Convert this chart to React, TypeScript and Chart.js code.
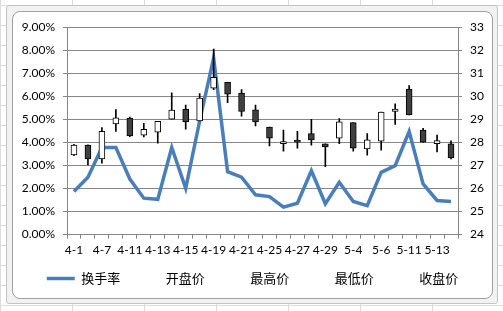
import React, { useEffect, useRef } from "react";
import { Chart, registerables } from "chart.js";

Chart.register(...registerables);

const categories = [
  "4-1", "4-2", "4-7", "4-8", "4-11", "4-12", "4-13", "4-14", "4-15", "4-18",
  "4-19", "4-20", "4-21", "4-22", "4-25", "4-26", "4-27", "4-28", "4-29", "4-30",
  "5-4", "5-5", "5-6", "5-7", "5-11", "5-12", "5-13", "5-14",
];

const turnover = [
  1.87, 2.49, 3.78, 3.78, 2.41, 1.58, 1.53, 3.78, 2.01, 4.93,
  7.66, 2.73, 2.49, 1.73, 1.65, 1.19, 1.36, 2.77, 1.34, 2.27,
  1.44, 1.26, 2.70, 2.99, 4.47, 2.20, 1.48, 1.44,
];

const openPrice = [
  27.46, 27.89, 27.28, 28.80, 29.06, 28.32, 28.45, 29.01, 29.45, 28.93,
  30.35, 30.61, 30.14, 29.41, 28.67, 27.95, 28.08, 28.38, 27.94, 28.18,
  28.86, 27.72, 28.05, 29.34, 30.31, 28.54, 27.95, 27.94,
];
const highPrice = [
  27.92, 27.90, 28.64, 29.43, 29.10, 28.83, 28.91, 30.15, 29.62, 30.12,
  32.05, 30.61, 30.29, 29.62, 28.67, 28.54, 28.48, 29.00, 27.94, 29.03,
  28.86, 28.38, 29.32, 29.68, 30.47, 28.61, 28.32, 28.07,
];
const lowPrice = [
  27.42, 27.02, 27.10, 28.48, 28.25, 28.24, 27.97, 29.01, 28.57, 28.93,
  30.29, 29.72, 29.14, 28.72, 27.85, 27.62, 27.75, 27.88, 26.95, 27.95,
  27.62, 27.45, 27.66, 28.78, 29.19, 28.01, 27.59, 27.28,
];
const closePrice = [
  27.89, 27.28, 28.48, 29.07, 28.28, 28.57, 28.91, 29.40, 28.89, 29.92,
  30.82, 30.09, 29.34, 28.89, 28.18, 28.04, 28.01, 28.11, 27.81, 28.89,
  27.75, 28.11, 29.32, 29.45, 29.19, 28.01, 28.08, 27.33,
];

const legendNames = ["换手率", "开盘价", "最高价", "最低价", "收盘价"];

const GRID = "#868686";
const LINE = "#4A7EBB";
const AXIS_FONT = { family: "Lato, 'Liberation Sans', sans-serif", size: 12 };

export default function App() {
  const ref = useRef<HTMLCanvasElement | null>(null);

  useEffect(() => {
    if (!ref.current) return;
    const up = openPrice.map((o, i) => closePrice[i] >= o);
    const chart = new Chart(ref.current, {
      type: "bar",
      data: {
        labels: categories,
        datasets: [
          {
            type: "line",
            label: legendNames[0],
            data: turnover,
            yAxisID: "y",
            borderColor: LINE,
            borderWidth: 3.5,
            pointRadius: 0,
            tension: 0,
            order: 3,
          } as any,
          {
            type: "bar",
            label: "wick",
            data: lowPrice.map((l, i) => [l, highPrice[i]]),
            yAxisID: "y1",
            backgroundColor: "#000",
            borderWidth: 0,
            barThickness: 1,
            grouped: false,
            order: 2,
          } as any,
          {
            type: "bar",
            label: "body",
            data: openPrice.map((o, i) => [o, closePrice[i]]),
            yAxisID: "y1",
            backgroundColor: up.map((u) => (u ? "#ffffff" : "#404040")),
            borderColor: "#000",
            borderWidth: 1,
            borderSkipped: false,
            barThickness: 6,
            minBarLength: 2,
            grouped: false,
            order: 1,
          } as any,
        ],
      },
      options: {
        animation: false,
        responsive: true,
        maintainAspectRatio: false,
        events: [],
        layout: { padding: { left: 0, right: 0, top: 7, bottom: 4 } },
        scales: {
          x: {
            offset: true,
            grid: {
              display: true,
              offset: true,
              drawOnChartArea: false,
              drawTicks: true,
              tickLength: 4,
              color: GRID,
            },
            border: { color: GRID },
            ticks: {
              autoSkip: false,
              maxRotation: 0,
              minRotation: 0,
              padding: 4,
              color: "#000",
              font: AXIS_FONT,
              callback: (_v: any, i: number) => (i % 2 === 0 ? categories[i] : ""),
            },
          },
          y: {
            position: "left",
            min: 0,
            max: 9,
            grid: { color: GRID, tickLength: 4 },
            border: { color: GRID },
            ticks: {
              stepSize: 1,
              padding: 8,
              color: "#000",
              font: AXIS_FONT,
              callback: (v: any) => Number(v).toFixed(2) + "%",
            },
            afterFit: (s: any) => {
              s.width = 55;
            },
          },
          y1: {
            position: "right",
            min: 24,
            max: 33,
            grid: { drawOnChartArea: false, color: GRID, tickLength: 4 },
            border: { color: GRID },
            ticks: { stepSize: 1, padding: 8, color: "#000", font: AXIS_FONT },
            afterFit: (s: any) => {
              s.width = 35;
            },
          },
        },
        plugins: {
          tooltip: { enabled: false },
          legend: {
            position: "bottom",
            labels: {
              usePointStyle: true,
              pointStyleWidth: 28,
              boxHeight: 13,
              padding: 11,
              color: "#000",
              font: { family: "'Noto Sans CJK SC', sans-serif", size: 13 },
              generateLabels: () =>
                legendNames.map((name, i) => ({
                  text: name,
                  pointStyle: "line",
                  strokeStyle: i === 0 ? LINE : "rgba(0,0,0,0)",
                  fillStyle: "rgba(0,0,0,0)",
                  lineWidth: i === 0 ? 3.5 : 0,
                  hidden: false,
                  datasetIndex: i,
                })),
            },
          },
        },
      } as any,
    });
    return () => chart.destroy();
  }, []);

  return (
    <div
      style={{
        position: "absolute",
        left: 0,
        top: 0,
        width: 503,
        height: 311,
        overflow: "hidden",
        background: "#ffffff",
        backgroundImage:
          "repeating-linear-gradient(to right, #dcdcdc 0, #dcdcdc 1px, transparent 1px, transparent 72px), repeating-linear-gradient(to bottom, transparent 0, transparent 5px, #dcdcdc 5px, #dcdcdc 6px, transparent 6px, transparent 20px)",
      }}
    >
      <div
        style={{
          position: "absolute",
          left: 6,
          top: 5,
          width: 492,
          height: 299,
          boxSizing: "border-box",
          border: "1px solid #c4c4c4",
          borderRadius: 3,
          background: "#f2f2f2",
        }}
      />
      <div
        style={{
          position: "absolute",
          left: 12,
          top: 11,
          width: 481,
          height: 288,
          boxSizing: "border-box",
          border: "1px solid #a0a0a0",
          borderRadius: 8,
          background: "#ffffff",
        }}
      />
      <div style={{ position: "absolute", left: 12, top: 12, width: 481, height: 287 }}>
        <canvas ref={ref} />
      </div>
    </div>
  );
}
